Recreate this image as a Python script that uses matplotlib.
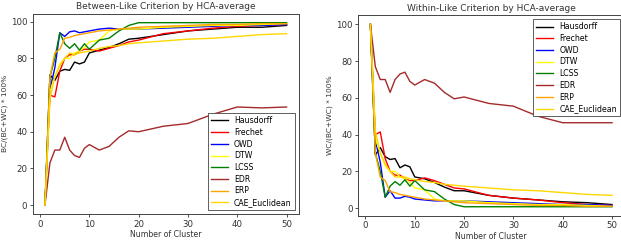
import matplotlib
matplotlib.use("Agg")
import matplotlib.pyplot as plt

clusters = [1, 2, 3, 4, 5, 6, 7, 8, 9, 10, 12, 14, 16, 18, 20, 25, 30, 35, 40, 45, 50]
names = ["Hausdorff", "Frechet", "OWD", "DTW", "LCSS", "EDR", "ERP", "CAE_Euclidean"]
colors = ["black", "red", "blue", "yellow", "green", "brown", "orange", "gold"]

# Between-like criterion
bc_hausdorff = [0, 71, 68, 73, 74, 73.5, 78, 77, 78, 83, 84.5, 86, 88, 90.5, 91, 93, 95, 96, 97, 97, 98]
bc_frechet = [0, 60, 59, 73, 80, 82, 82, 84, 85, 85, 84, 85.5, 87, 89, 90, 93.5, 95, 96.5, 97.5, 98, 98.5]
bc_owd = [0, 63, 75, 94, 92, 94.5, 95, 94, 94.5, 95, 96, 96.5, 96, 96, 96, 96.5, 97, 97.5, 98, 98, 98.5]
bc_dtw = [0, 62, 70, 77, 80, 80, 83, 84, 86, 89, 90, 95, 96, 96, 96, 97, 97.5, 98, 98, 98.5, 99]
bc_lcss = [0, 70, 80, 94, 88, 85.5, 88, 84.5, 88, 85, 90, 91, 95, 98, 99.5, 99.5, 99.5, 99.5, 99.5, 99.5, 99.5]
bc_edr = [0, 23, 30, 30, 37, 30, 27, 26, 31, 33, 30, 32, 37, 40.5, 40, 43, 44.5, 49.5, 53.5, 53, 53.5]
bc_erp = [0, 70, 83, 85, 91, 91.5, 92.5, 93, 93.5, 94, 95, 95.5, 96, 96.5, 97, 97.5, 98, 98.5, 98.5, 99, 99]
bc_cae = [0, 58, 70, 76, 80, 83, 82, 83, 83.5, 84, 85.5, 86.5, 87, 88, 88.5, 89.5, 90.5, 91, 92, 93, 93.5]

# Within-like criterion
wc_hausdorff = [100, 29, 33, 28, 26.5, 27, 22, 23.5, 22.5, 17, 16, 14, 11.5, 9.5, 9.5, 7, 5.5, 4.5, 3.5, 3, 2]
wc_frechet = [100, 40, 41.5, 27, 20, 18, 18, 16, 15, 15, 16.5, 15, 13, 11, 10.5, 7, 5.5, 4.5, 3, 2, 1.5]
wc_owd = [100, 37, 25, 6, 9.5, 5.5, 5.5, 6.5, 6, 5, 4.5, 4, 4, 4, 4, 3.5, 3, 2.5, 2, 2, 1.5]
wc_dtw = [100, 38, 30, 23, 20, 20, 17, 16, 14, 11, 10, 5, 4, 4, 4, 3, 2.5, 2, 2, 1.5, 1]
wc_lcss = [100, 30, 20, 6, 12, 14.5, 12.5, 15.5, 12, 15, 10, 9, 5, 2, 0.8, 0.8, 0.8, 0.8, 0.8, 0.8, 0.8]
wc_edr = [100, 77, 70, 70, 63, 70, 73, 74, 69, 67, 70, 68, 63, 59.5, 60.5, 57, 55.5, 50, 46.5, 46.5, 46.5]
wc_erp = [100, 30, 17, 15, 9, 8.5, 7.5, 7, 6.5, 6, 5, 4.5, 4, 3.5, 3, 2.5, 2, 1.5, 1.5, 1, 1]
wc_cae = [100, 42, 30, 24, 20, 17, 17, 17, 16, 15.5, 14.5, 14, 13, 12.5, 12, 11, 10, 9.5, 8.5, 7.5, 7]

bc_series = [bc_hausdorff, bc_frechet, bc_owd, bc_dtw, bc_lcss, bc_edr, bc_erp, bc_cae]
wc_series = [wc_hausdorff, wc_frechet, wc_owd, wc_dtw, wc_lcss, wc_edr, wc_erp, wc_cae]

fig = plt.figure(figsize=(6.21, 2.42), dpi=100)
ax1 = fig.add_axes([0.053, 0.115, 0.428, 0.829])
ax2 = fig.add_axes([0.577, 0.108, 0.428, 0.829])

for ax, series, title, ylabel, loc in [
    (ax1, bc_series, "Between-Like Criterion by HCA-average", "BC/(BC+WC) * 100%", "lower right"),
    (ax2, wc_series, "Within-Like Criterion by HCA-average", "WC/(BC+WC) * 100%", "upper right"),
]:
    for name, col, vals in zip(names, colors, series):
        ax.plot(clusters, vals, color=col, lw=1.0, label=name)
    ax.set_title(title, fontsize=6.5, pad=3, color="#333333")
    ax.set_xlabel("Number of Cluster", fontsize=5.6, labelpad=1, color="#333333")
    ax.set_ylabel(ylabel, fontsize=5.4, labelpad=2, color="#333333")
    ax.set_xticks([0, 10, 20, 30, 40, 50])
    ax.set_yticks([0, 20, 40, 60, 80, 100])
    ax.tick_params(labelsize=6.2, length=2.5, pad=1.5, width=0.6, colors="#333333")
    for s in ax.spines.values():
        s.set_linewidth(0.7)
        s.set_color("#444444")
    leg = ax.legend(loc=loc, fontsize=5.6, handlelength=2.2, labelspacing=0.35,
                    borderpad=0.4, fancybox=False, framealpha=1)
    leg.get_frame().set_edgecolor("#444444")
    leg.get_frame().set_linewidth(0.6)

fig.savefig("out.png", dpi=100)
